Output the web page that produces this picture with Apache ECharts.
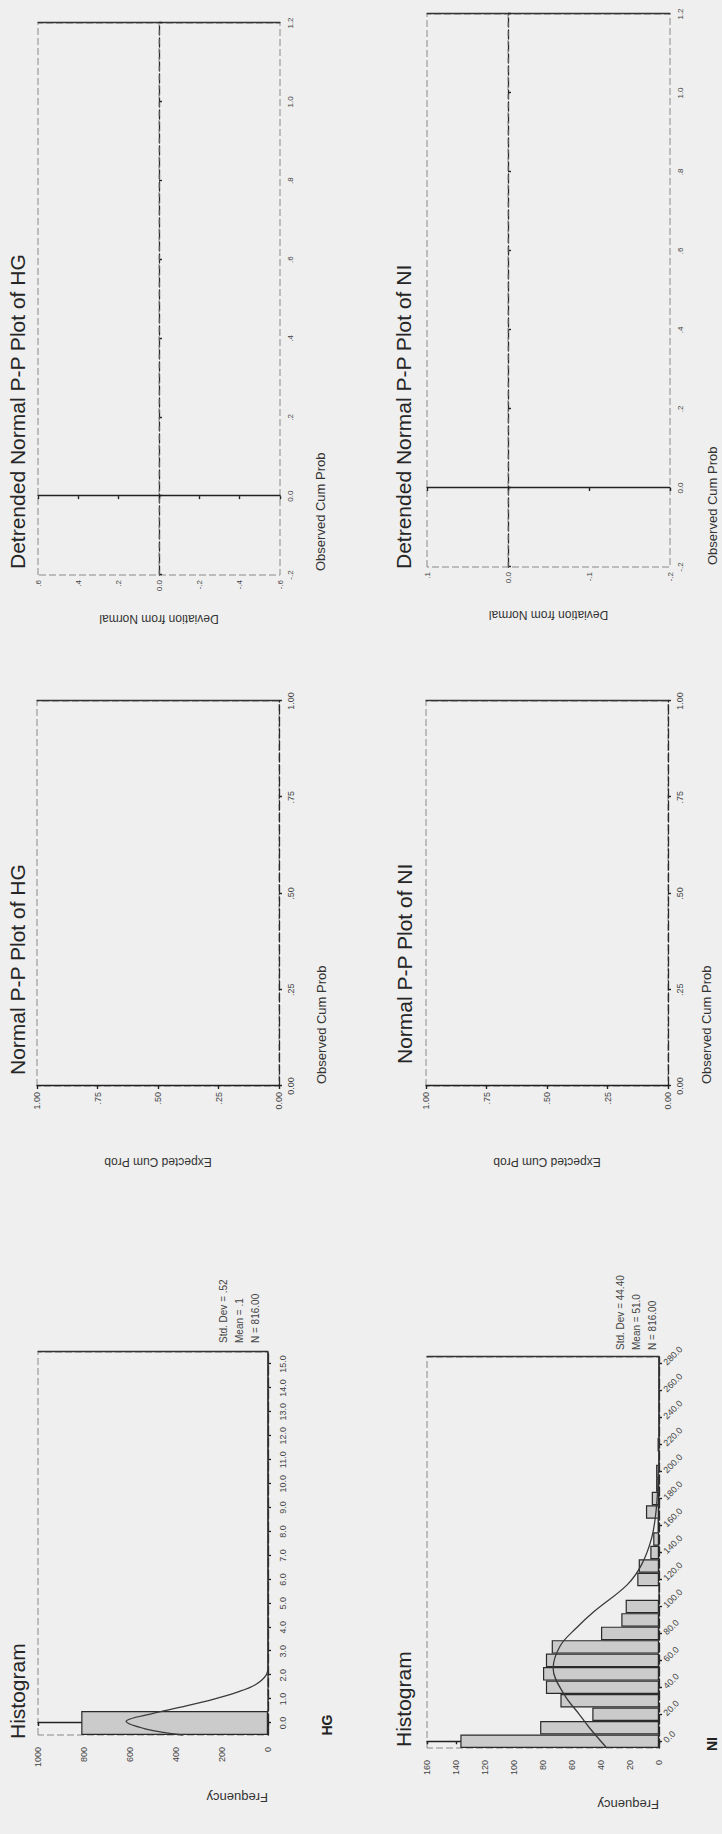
<!DOCTYPE html>
<html><head><meta charset="utf-8">
<script src="https://cdn.jsdelivr.net/npm/echarts@6/dist/echarts.min.js"></script>
<style>
html,body{margin:0;padding:0;width:722px;height:1834px;overflow:hidden;background:#efefef;}
#page{position:absolute;left:0;top:0;width:1834px;height:722px;transform-origin:0 0;transform:translateY(1834px) rotate(-90deg);}
</style></head><body><div id="page"></div>
<script>
// ---- data read from the (rotated) scanned page ----
const HG_BIN_LABELS = ['0.0','1.0','2.0','3.0','4.0','5.0','6.0','7.0','8.0','9.0','10.0','11.0','12.0','13.0','14.0','15.0'];
const HG_FREQ = [812,0,0,0,0,0,0,0,0,0,0,0,0,0,0,0];
const HG_CURVE = [[-0.5,370],[-0.25,530],[0.07,617],[0.4,500],[0.65,385],[1.0,235],[1.3,130],[1.6,55],[2.0,8],[2.4,0],[15.5,0]];
const NI_BIN_LABELS = ['0.0','10.0','20.0','30.0','40.0','50.0','60.0','70.0','80.0','90.0','100.0','110.0','120.0','130.0','140.0','150.0','160.0','170.0','180.0','190.0','200.0','210.0','220.0','230.0','240.0','250.0','260.0','270.0','280.0'];
const NI_FREQ = [137,82,46,68,78,80,78,74,40,26,23,0,15,14,6,4,1,9,5,2,2,0,1,0,0,0,0,0,0];
const NI_CURVE = [[-5,36],[10,48],[20,55],[34,65],[54,73],[71,68],[84,57],[96,45],[116,22],[131,12],[151,5],[171,2],[196,0.5],[220,0],[285,0]];
const PP_TICK_LABELS = ['0.00','.25','.50','.75','1.00'];
const DET_X_TICK_LABELS = ['-.2','0.0','.2','.4','.6','.8','1.0','1.2'];
const DET_HG_Y_TICK_LABELS = ['-.6','-.4','-.2','0.0','.2','.4','.6'];
const DET_NI_Y_TICK_LABELS = ['-.2','-.1','0.0','.1'];
const DET_ZERO = [[-0.2,0],[1.2,0]];
const HG_STATS = ['Std. Dev = .52','Mean = .1','N = 816.00'];
const NI_STATS = ['Std. Dev = 44.40','Mean = 51.0','N = 816.00'];
const TITLES = ['Histogram','Histogram','Normal P-P Plot of HG','Normal P-P Plot of NI','Detrended Normal P-P Plot of HG','Detrended Normal P-P Plot of NI'];

// ---- layout (landscape page, turned by CSS to match the scan) ----
const FONT = 'Liberation Sans, Arial, sans-serif';
const G = [
  {left:99, top:38, width:383, height:230},   // HG histogram
  {left:86, top:427, width:391, height:232},  // NI histogram
  {left:748, top:37, width:385, height:242},  // HG P-P
  {left:748, top:426, width:385, height:242}, // NI P-P
  {left:1259, top:38, width:552, height:242}, // HG detrended
  {left:1267, top:427, width:553, height:243} // NI detrended
];
const TITLE_POS = [[95,7],[87,393],[759,7],[770,394],[1265,7],[1265,393]];

const lab = (size) => ({fontSize:size, color:'#444', fontFamily:FONT});
const xLine = {show:true, lineStyle:{color:'#2a2a2a', width:1.3, type:[9,3]}};
const yLine = {show:true, lineStyle:{color:'#222', width:1.4}};
const aTick = {show:true, length:3, lineStyle:{color:'#222', width:1.4}};

function ppFmt(v){ return PP_TICK_LABELS[Math.round(v/0.25)]; }
function detXFmt(v){ return DET_X_TICK_LABELS[Math.round((v+0.2)/0.2)]; }
function detHGYFmt(v){ return DET_HG_Y_TICK_LABELS[Math.round((v+0.6)/0.2)]; }
function detNIYFmt(v){ return DET_NI_Y_TICK_LABELS[Math.round((v+0.2)/0.1)]; }
function plainFmt(v){ return String(v); }

const grids = G.map(g => Object.assign({show:true, borderColor:'#8a8a8a', borderWidth:1, borderType:[7,3], backgroundColor:'transparent'}, g));

const xAxis = [
  {gridIndex:0, type:'category', data:HG_BIN_LABELS, boundaryGap:true, axisLine:xLine, axisTick:Object.assign({alignWithLabel:true},aTick), axisLabel:Object.assign({interval:0, margin:10},lab(9)), splitLine:{show:false}},
  {gridIndex:1, type:'category', data:NI_BIN_LABELS, boundaryGap:true, axisLine:xLine, axisTick:Object.assign({alignWithLabel:true, interval:1},aTick), axisLabel:Object.assign({interval:1, rotate:-45, margin:6},lab(9)), splitLine:{show:false}},
  {gridIndex:2, type:'value', min:0, max:1, interval:0.25, axisLine:xLine, axisTick:aTick, axisLabel:Object.assign({formatter:ppFmt, margin:7},lab(9)), splitLine:{show:false}},
  {gridIndex:3, type:'value', min:0, max:1, interval:0.25, axisLine:xLine, axisTick:aTick, axisLabel:Object.assign({formatter:ppFmt, margin:7},lab(9)), splitLine:{show:false}},
  {gridIndex:4, type:'value', min:-0.2, max:1.2, interval:0.2, axisLine:xLine, axisTick:aTick, axisLabel:Object.assign({formatter:detXFmt, margin:6},lab(8)), splitLine:{show:false}},
  {gridIndex:5, type:'value', min:-0.2, max:1.2, interval:0.2, axisLine:xLine, axisTick:aTick, axisLabel:Object.assign({formatter:detXFmt, margin:6},lab(8)), splitLine:{show:false}},
  {gridIndex:0, type:'value', min:-0.5, max:15.5, show:false},
  {gridIndex:1, type:'value', min:-5, max:285, show:false}
];

const yName = (txt, gap) => ({name:txt, nameLocation:'middle', nameRotate:90, nameGap:gap, nameTextStyle:{fontSize:12, color:'#333', fontFamily:FONT}});
const yAxis = [
  {gridIndex:0, type:'value', min:0, max:1000, interval:200, axisLine:yLine, axisTick:aTick, axisLabel:Object.assign({margin:12, formatter:plainFmt},lab(9)), splitLine:{show:false}},
  {gridIndex:1, type:'value', min:0, max:160, interval:20, axisLine:yLine, axisTick:aTick, axisLabel:Object.assign({margin:12, formatter:plainFmt},lab(9)), splitLine:{show:false}},
  Object.assign({gridIndex:2, type:'value', min:0, max:1, interval:0.25, axisLine:yLine, axisTick:aTick, axisLabel:Object.assign({formatter:ppFmt, margin:6},lab(9)), splitLine:{show:false}}, yName('Expected Cum Prob',70)),
  Object.assign({gridIndex:3, type:'value', min:0, max:1, interval:0.25, axisLine:yLine, axisTick:aTick, axisLabel:Object.assign({formatter:ppFmt, margin:6},lab(9)), splitLine:{show:false}}, yName('Expected Cum Prob',70)),
  Object.assign({gridIndex:4, type:'value', min:-0.6, max:0.6, interval:0.2, axisLine:yLine, axisTick:aTick, axisLabel:Object.assign({formatter:detHGYFmt, margin:5},lab(8)), splitLine:{show:false}}, yName('Deviation from Normal',38)),
  Object.assign({gridIndex:5, type:'value', min:-0.2, max:0.1, interval:0.1, axisLine:yLine, axisTick:aTick, axisLabel:Object.assign({formatter:detNIYFmt, margin:5},lab(8)), splitLine:{show:false}}, yName('Deviation from Normal',42))
];
// solid outer edge of each frame (the far side of the category / probability axis)
for (let i = 0; i < 6; i++) {
  yAxis.push({gridIndex:i, type:'value', position:'right', min:0, max:1, axisLine:{show:true, lineStyle:{color:'#333', width:1.3}}, axisTick:{show:false}, axisLabel:{show:false}, splitLine:{show:false}});
}

const barStyle = {color:'#cbcbcb', borderColor:'#2a2a2a', borderWidth:1.2};
const curveStyle = {color:'#3a3a3a', width:1.3};
const zeroStyle = {color:'#8a8a8a', width:1, type:[5,4]};

const series = [
  {type:'bar', xAxisIndex:0, yAxisIndex:0, data:HG_FREQ, barCategoryGap:'0%', itemStyle:barStyle, silent:true},
  {type:'line', xAxisIndex:6, yAxisIndex:0, data:HG_CURVE, smooth:0.35, showSymbol:false, symbol:'none', lineStyle:curveStyle, silent:true},
  {type:'bar', xAxisIndex:1, yAxisIndex:1, data:NI_FREQ, barCategoryGap:'0%', itemStyle:barStyle, silent:true},
  {type:'line', xAxisIndex:7, yAxisIndex:1, data:NI_CURVE, smooth:0.35, showSymbol:false, symbol:'none', lineStyle:curveStyle, silent:true},
  {type:'line', xAxisIndex:4, yAxisIndex:4, data:DET_ZERO, showSymbol:false, symbol:'none', lineStyle:zeroStyle, silent:true},
  {type:'line', xAxisIndex:5, yAxisIndex:5, data:DET_ZERO, showSymbol:false, symbol:'none', lineStyle:zeroStyle, silent:true}
];

const title = TITLES.map((t,i) => ({text:t, left:TITLE_POS[i][0], top:TITLE_POS[i][1], padding:0, textStyle:{fontSize:21, fontWeight:'normal', color:'#262626', fontFamily:FONT}}));

function txt(x, y, text, style, extra){
  return Object.assign({type:'text', x:x, y:y, silent:true, style:Object.assign({text:text, fill:'#333', fontFamily:FONT, fontSize:12}, style)}, extra||{});
}
const axisBottom = i => G[i].top + G[i].height;
const graphic = [
  txt(37, axisBottom(0), 'Frequency', {fontSize:13, align:'left', verticalAlign:'middle'}, {rotation:Math.PI/2}),
  txt(30, axisBottom(1), 'Frequency', {fontSize:13, align:'left', verticalAlign:'middle'}, {rotation:Math.PI/2}),
  txt(109, 327, 'HG', {fontSize:14, fontWeight:'bold', fill:'#222', align:'center', verticalAlign:'middle'}),
  txt(90, 712, 'NI', {fontSize:14, fontWeight:'bold', fill:'#222', align:'center', verticalAlign:'middle'}),
  txt(G[2].left+2, axisBottom(2)+42, 'Observed Cum Prob', {fontSize:13, align:'left', verticalAlign:'middle'}),
  txt(G[3].left+2, axisBottom(3)+38, 'Observed Cum Prob', {fontSize:13, align:'left', verticalAlign:'middle'}),
  txt(G[4].left+4, axisBottom(4)+40, 'Observed Cum Prob', {fontSize:13, align:'left', verticalAlign:'middle'}),
  txt(G[5].left+2, axisBottom(5)+42, 'Observed Cum Prob', {fontSize:13, align:'left', verticalAlign:'middle'}),
  txt(491, 215, HG_STATS.join('\n'), {fontSize:10, lineHeight:16, align:'left', verticalAlign:'top', fill:'#444'}),
  txt(484, 612, NI_STATS.join('\n'), {fontSize:10, lineHeight:16, align:'left', verticalAlign:'top', fill:'#444'})
];

const chart = echarts.init(document.getElementById('page'), null, {renderer:'svg', width:1834, height:722});
chart.setOption({animation:false, backgroundColor:'#efefef', title, grid:grids, xAxis, yAxis, series, graphic});
</script></body></html>
